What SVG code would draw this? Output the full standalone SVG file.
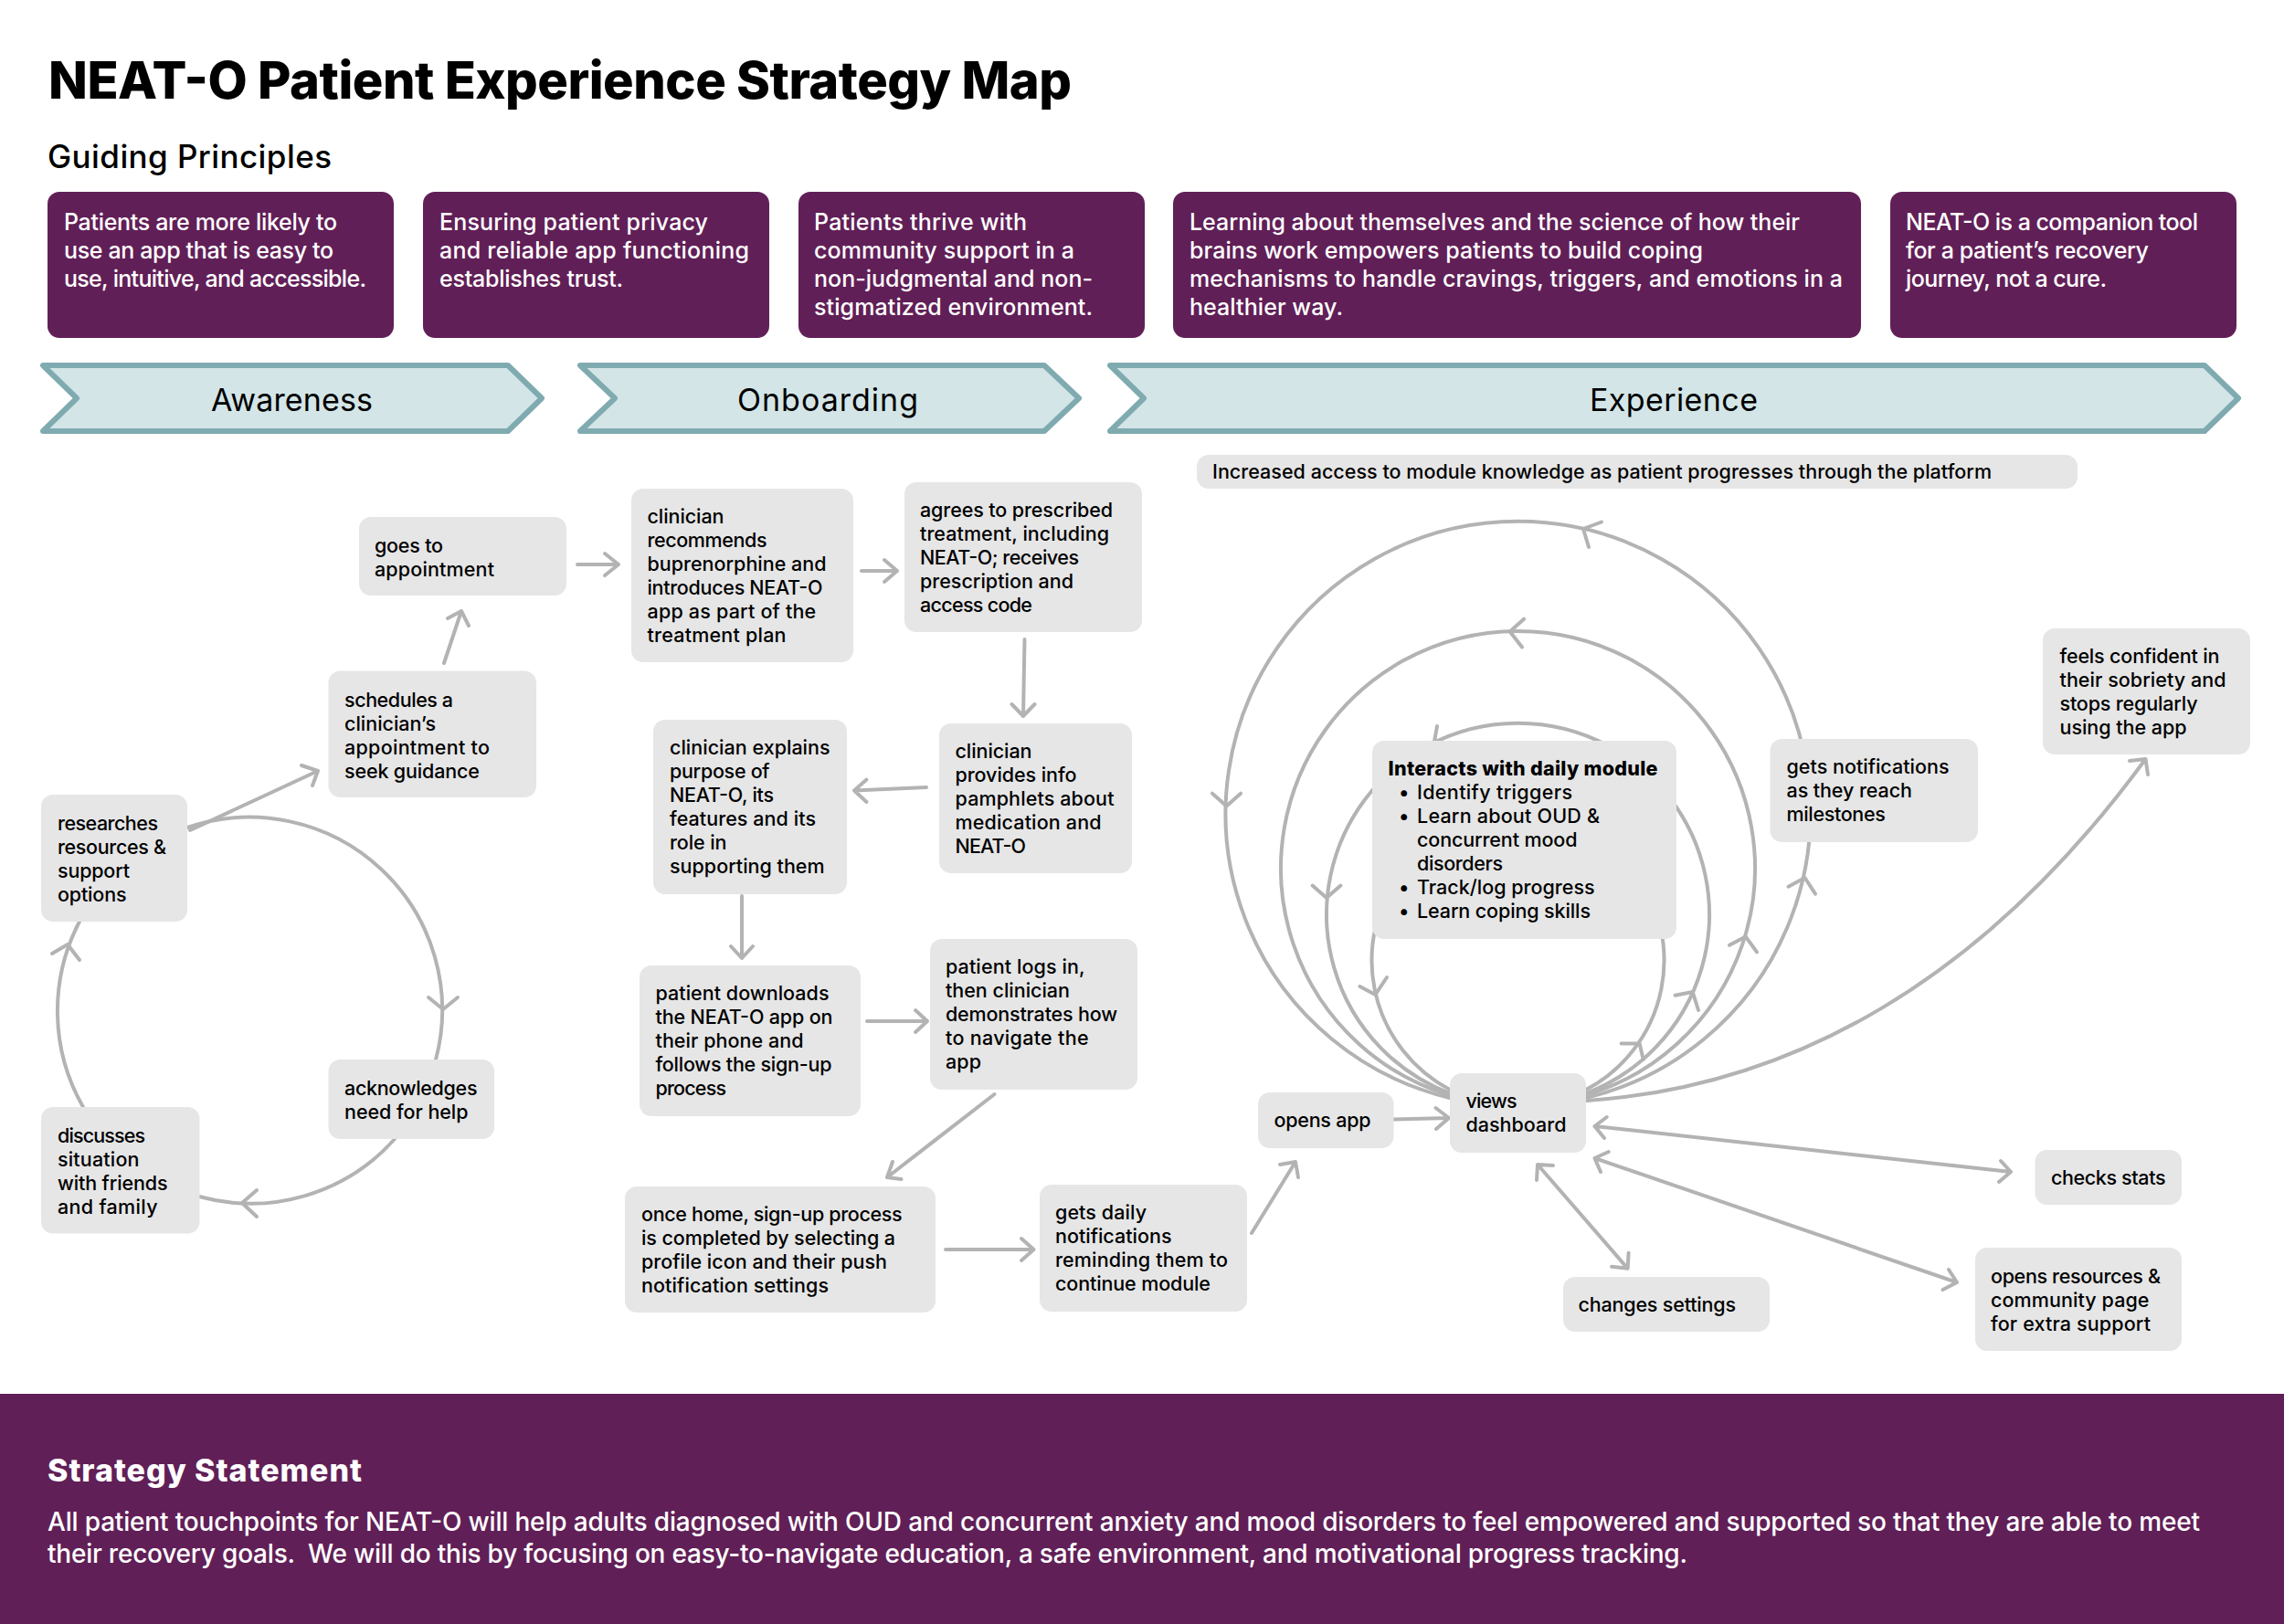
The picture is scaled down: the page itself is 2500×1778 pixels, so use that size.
<svg xmlns="http://www.w3.org/2000/svg" width="2500" height="1778" viewBox="0 0 2500 1778">
<style>
text{font-family:"Inter","Noto Sans","Liberation Sans",sans-serif;}
.p{fill:#611F57;}
.pt{font-size:25px;fill:#fff;font-weight:500;}
.g{fill:#E6E6E6;}
.t{font-size:21.5px;fill:#000;font-weight:500;}
.tb{font-size:21.5px;fill:#000;font-weight:800;}
.ch{fill:#D3E5E7;stroke:#7FABB0;stroke-width:6;stroke-linejoin:round;}
.cl{font-size:34px;fill:#000;text-anchor:start;}
.c{fill:none;stroke:#B3B3B3;stroke-width:4;stroke-linecap:round;stroke-linejoin:round;}
</style>
<rect width="2500" height="1778" fill="#fff"/>
<text id="title" x="53" y="108" font-size="56" font-weight="800" textLength="1120" fill="#000">NEAT-O Patient Experience Strategy Map</text>
<text id="guiding" x="52" y="184" font-size="35" font-weight="500" textLength="311" fill="#000">Guiding Principles</text>

<g id="principle-1"><rect class="p" x="52" y="210" width="379" height="160" rx="13"/>
<text class="pt" x="70" y="252" textLength="299">Patients are more likely to</text>
<text class="pt" x="70" y="283" textLength="295">use an app that is easy to</text>
<text class="pt" x="70" y="314" textLength="331">use, intuitive, and accessible.</text></g>
<g id="principle-2"><rect class="p" x="463" y="210" width="379" height="160" rx="13"/>
<text class="pt" x="481" y="252" textLength="294">Ensuring patient privacy</text>
<text class="pt" x="481" y="283" textLength="339">and reliable app functioning</text>
<text class="pt" x="481" y="314" textLength="201">establishes trust.</text></g>
<g id="principle-3"><rect class="p" x="874" y="210" width="379" height="160" rx="13"/>
<text class="pt" x="891" y="252" textLength="233">Patients thrive with</text>
<text class="pt" x="891" y="283" textLength="285">community support in a</text>
<text class="pt" x="891" y="314" textLength="305">non-judgmental and non-</text>
<text class="pt" x="891" y="345" textLength="305">stigmatized environment.</text></g>
<g id="principle-4"><rect class="p" x="1284" y="210" width="753" height="160" rx="13"/>
<text class="pt" x="1302" y="252" textLength="668">Learning about themselves and the science of how their</text>
<text class="pt" x="1302" y="283" textLength="562">brains work empowers patients to build coping</text>
<text class="pt" x="1302" y="314" textLength="715">mechanisms to handle cravings, triggers, and emotions in a</text>
<text class="pt" x="1302" y="345" textLength="168">healthier way.</text></g>
<g id="principle-5"><rect class="p" x="2069" y="210" width="379" height="160" rx="13"/>
<text class="pt" x="2086" y="252" textLength="320">NEAT-O is a companion tool</text>
<text class="pt" x="2086" y="283" textLength="266">for a patient’s recovery</text>
<text class="pt" x="2086" y="314" textLength="220">journey, not a cure.</text></g>

<g id="stage-awareness"><path class="ch" d="M47,400H556L593,436L556,472H47L84,436Z"/><text class="cl" x="231" y="450" textLength="177">Awareness</text></g>
<g id="stage-onboarding"><path class="ch" d="M635,400H1143L1181,436L1143,472H635L673,436Z"/><text class="cl" x="807" y="450" textLength="198">Onboarding</text></g>
<g id="stage-experience"><path class="ch" d="M1215,400H2413L2450,436L2413,472H1215L1252,436Z"/><text class="cl" x="1740" y="450" textLength="184">Experience</text></g>

<g id="connectors" class="c">
<path d="M205,906A211,211 0 0 1 477,1160"/><path d="M469,1092L485,1105L501,1092"/>
<path d="M432,1247A211,211 0 0 1 218,1310"/><path d="M281,1303L265,1317L281,1332"/>
<path d="M91,1212A211,211 0 0 1 87,1009"/><path d="M57,1044L74,1034L87,1051"/>
<path d="M208,909L348,844M330,838L348,844L342,860"/>
<path d="M486,726L505,669M490,677L505,669L513,685"/>
<path d="M632,618H677M662,606L677,618L662,630"/>
<path d="M943,625H982M968,613L982,625L968,637"/>
<path d="M1121.500,700L1120,784M1107.500,771L1120,784L1132.500,771"/>
<path d="M1014,862L935,865.500M948.500,853.500L935,865.500L948.500,878"/>
<path d="M812,981V1049M800,1036L812,1049L824,1036"/>
<path d="M949,1118H1015M1002,1106L1015,1118L1002,1130"/>
<path d="M1088.500,1198L971,1289M977,1272L971,1289L986.500,1291"/>
<path d="M1035,1368H1131.500M1118,1356L1131.500,1368L1118,1380"/>
<path d="M1370,1350L1418,1272M1401,1275L1418,1272L1421,1289"/>
<path d="M1525.500,1225.400L1586,1224M1571.500,1213L1586,1224L1572,1236"/>
<path d="M1736,1202A320,320 0 1 0 1587,1202"/>
<path d="M1957.500,970.700L1975.500,961L1987,978.700"/><path d="M1753,571.500L1733,579L1739,599"/><path d="M1327,868.700L1342.500,882.600L1358,868.700"/>
<path d="M1736,1199A259.500,259.500 0 1 0 1587,1199"/>
<path d="M1893,1034.800L1910.700,1025.400L1923,1042.400"/><path d="M1668,677.700L1652.700,691.500L1666,708.500"/>
<path d="M1736,1197A209.500,209.500 0 1 0 1587,1197"/>
<path d="M1833.500,1089.700L1852.700,1086L1859,1106"/><path d="M1573,795L1570,812L1553,818"/><path d="M1436.600,969.600L1452,983L1467.400,969.600"/>
<path d="M1736,1193A160,160 0 1 0 1587,1193"/>
<path d="M1774.600,1142.400L1794.600,1142.400L1798.700,1160"/><path d="M1488.400,1080L1505.400,1089L1518,1070"/>
<path d="M1737,1205C1960,1190 2170,1075 2348.500,831M2331,833L2348.500,831L2351,848"/>
<path d="M1745.500,1233L2201,1283M1758.700,1223L1745.500,1233L1756,1246M2190,1271L2201,1283L2188,1294"/>
<path d="M1745.500,1268L2142,1404M1760.700,1261L1745.500,1268L1752,1283M2133,1390L2142,1404L2126.500,1412"/>
<path d="M1683,1275L1781.600,1388.700M1700,1276L1683,1275L1682,1292M1782.600,1371.700L1781.600,1388.700L1764,1386.700"/>
</g>

<g id="note"><rect class="g" x="1310" y="498" width="964" height="37" rx="13"/><text class="t" x="1327" y="524" textLength="853">Increased access to module knowledge as patient progresses through the platform</text></g>

<g id="n-goes"><rect class="g" x="393" y="566" width="227" height="86" rx="13"/>
<text class="t" x="410" y="605" textLength="75">goes to</text><text class="t" x="410" y="631" textLength="131">appointment</text></g>
<g id="n-schedules"><rect class="g" x="359.500" y="734.500" width="227.500" height="138.500" rx="13"/>
<text class="t" x="377" y="773.500" textLength="119">schedules a</text><text class="t" x="377" y="799.500" textLength="100">clinician’s</text><text class="t" x="377" y="825.500" textLength="159">appointment to</text><text class="t" x="377" y="851.500" textLength="148">seek guidance</text></g>
<g id="n-researches"><rect class="g" x="45" y="870" width="160" height="139" rx="13"/>
<text class="t" x="63" y="909" textLength="110">researches</text><text class="t" x="63" y="935" textLength="119">resources &amp;</text><text class="t" x="63" y="961" textLength="79">support</text><text class="t" x="63" y="987" textLength="75.500">options</text></g>
<g id="n-acknowledges"><rect class="g" x="359.500" y="1160" width="181.500" height="87" rx="13"/>
<text class="t" x="377" y="1199" textLength="145.500">acknowledges</text><text class="t" x="377" y="1225" textLength="135.500">need for help</text></g>
<g id="n-discusses"><rect class="g" x="45" y="1212" width="173.500" height="138.500" rx="13"/>
<text class="t" x="63" y="1251" textLength="96">discusses</text><text class="t" x="63" y="1277" textLength="89.500">situation</text><text class="t" x="63" y="1303" textLength="120.500">with friends</text><text class="t" x="63" y="1329" textLength="109.500">and family</text></g>

<g id="n-recommends"><rect class="g" x="691" y="535" width="243" height="190" rx="13"/>
<text class="t" x="708.500" y="573" textLength="84">clinician</text><text class="t" x="708.500" y="599" textLength="131">recommends</text><text class="t" x="708.500" y="625" textLength="196">buprenorphine and</text><text class="t" x="708.500" y="651" textLength="192">introduces NEAT-O</text><text class="t" x="708.500" y="677" textLength="184.700">app as part of the</text><text class="t" x="708.500" y="703" textLength="152">treatment plan</text></g>
<g id="n-agrees"><rect class="g" x="990" y="528" width="260" height="164" rx="13"/>
<text class="t" x="1007" y="566" textLength="211">agrees to prescribed</text><text class="t" x="1007" y="592" textLength="207">treatment, including</text><text class="t" x="1007" y="618" textLength="174">NEAT-O; receives</text><text class="t" x="1007" y="644" textLength="168">prescription and</text><text class="t" x="1007" y="670" textLength="123">access code</text></g>
<g id="n-provides"><rect class="g" x="1028" y="792" width="211" height="164" rx="13"/>
<text class="t" x="1045.500" y="830" textLength="84">clinician</text><text class="t" x="1045.500" y="856" textLength="133">provides info</text><text class="t" x="1045.500" y="882" textLength="174">pamphlets about</text><text class="t" x="1045.500" y="908" textLength="160">medication and</text><text class="t" x="1045.500" y="934" textLength="77.500">NEAT-O</text></g>
<g id="n-explains"><rect class="g" x="715" y="788" width="212" height="191" rx="13"/>
<text class="t" x="733" y="826" textLength="175.600">clinician explains</text><text class="t" x="733" y="852" textLength="109.500">purpose of</text><text class="t" x="733" y="878" textLength="114">NEAT-O, its</text><text class="t" x="733" y="904" textLength="160">features and its</text><text class="t" x="733" y="930" textLength="62.500">role in</text><text class="t" x="733" y="956" textLength="169.600">supporting them</text></g>
<g id="n-downloads"><rect class="g" x="700" y="1057" width="242" height="165" rx="13"/>
<text class="t" x="717.500" y="1095" textLength="190">patient downloads</text><text class="t" x="717.500" y="1121" textLength="194">the NEAT-O app on</text><text class="t" x="717.500" y="1147" textLength="162">their phone and</text><text class="t" x="717.500" y="1173" textLength="193">follows the sign-up</text><text class="t" x="717.500" y="1199" textLength="77.500">process</text></g>
<g id="n-logs"><rect class="g" x="1018" y="1028" width="227" height="165" rx="13"/>
<text class="t" x="1035" y="1066" textLength="152.600">patient logs in,</text><text class="t" x="1035" y="1092" textLength="136">then clinician</text><text class="t" x="1035" y="1118" textLength="188">demonstrates how</text><text class="t" x="1035" y="1144" textLength="156.600">to navigate the</text><text class="t" x="1035" y="1170" textLength="39">app</text></g>
<g id="n-once"><rect class="g" x="684" y="1299" width="340" height="138" rx="13"/>
<text class="t" x="702" y="1337" textLength="285.700">once home, sign-up process</text><text class="t" x="702" y="1363" textLength="278">is completed by selecting a</text><text class="t" x="702" y="1389" textLength="269">profile icon and their push</text><text class="t" x="702" y="1415" textLength="205">notification settings</text></g>
<g id="n-gets-daily"><rect class="g" x="1138" y="1297" width="227" height="139" rx="13"/>
<text class="t" x="1155" y="1335" textLength="100">gets daily</text><text class="t" x="1155" y="1361" textLength="127.500">notifications</text><text class="t" x="1155" y="1387" textLength="189">reminding them to</text><text class="t" x="1155" y="1413" textLength="170">continue module</text></g>

<g id="n-opens-app"><rect class="g" x="1377" y="1196" width="148.500" height="61" rx="13"/><text class="t" x="1394.500" y="1234" textLength="106">opens app</text></g>
<g id="n-views"><rect class="g" x="1587" y="1175" width="149" height="87" rx="13"/>
<text class="t" x="1604.500" y="1213" textLength="56">views</text><text class="t" x="1604.500" y="1239" textLength="110">dashboard</text></g>
<g id="n-module"><rect class="g" x="1502" y="811" width="333" height="217" rx="13"/>
<text class="tb" x="1519.500" y="849" textLength="295">Interacts with daily module</text>
<text class="t" x="1531" y="875">•</text><text class="t" x="1551" y="875" textLength="170">Identify triggers</text>
<text class="t" x="1531" y="901">•</text><text class="t" x="1551" y="901" textLength="200">Learn about OUD &amp;</text>
<text class="t" x="1551" y="927" textLength="175.500">concurrent mood</text>
<text class="t" x="1551" y="953" textLength="94">disorders</text>
<text class="t" x="1531" y="979">•</text><text class="t" x="1551" y="979" textLength="194.600">Track/log progress</text>
<text class="t" x="1531" y="1005">•</text><text class="t" x="1551" y="1005" textLength="190">Learn coping skills</text></g>
<g id="n-milestones"><rect class="g" x="1937.500" y="809" width="227.500" height="113" rx="13"/>
<text class="t" x="1955.500" y="847" textLength="178">gets notifications</text><text class="t" x="1955.500" y="873" textLength="137.400">as they reach</text><text class="t" x="1955.500" y="899" textLength="108.300">milestones</text></g>
<g id="n-confident"><rect class="g" x="2236" y="688" width="227" height="138" rx="13"/>
<text class="t" x="2254.500" y="726" textLength="175">feels confident in</text><text class="t" x="2254.500" y="752" textLength="182">their sobriety and</text><text class="t" x="2254.500" y="778" textLength="151">stops regularly</text><text class="t" x="2254.500" y="804" textLength="139">using the app</text></g>
<g id="n-stats"><rect class="g" x="2227.500" y="1259" width="160.500" height="60" rx="13"/><text class="t" x="2245" y="1297" textLength="125.500">checks stats</text></g>
<g id="n-resources"><rect class="g" x="2162" y="1366" width="226" height="113" rx="13"/>
<text class="t" x="2179" y="1405" textLength="186">opens resources &amp;</text><text class="t" x="2179" y="1431" textLength="173.500">community page</text><text class="t" x="2179" y="1457" textLength="175">for extra support</text></g>
<g id="n-settings"><rect class="g" x="1711" y="1398" width="226" height="60" rx="13"/><text class="t" x="1727.500" y="1436" textLength="172.500">changes settings</text></g>

<g id="strategy"><rect class="p" x="0" y="1526" width="2500" height="252"/>
<text x="52" y="1622" font-size="34" font-weight="800" fill="#fff" textLength="344">Strategy Statement</text>
<text x="52" y="1676" font-size="28" font-weight="500" fill="#fff" textLength="2356">All patient touchpoints for NEAT-O will help adults diagnosed with OUD and concurrent anxiety and mood disorders to feel empowered and supported so that they are able to meet</text>
<text x="52" y="1711" font-size="28" font-weight="500" fill="#fff" textLength="1795" xml:space="preserve">their recovery goals.  We will do this by focusing on easy-to-navigate education, a safe environment, and motivational progress tracking.</text></g>
</svg>
